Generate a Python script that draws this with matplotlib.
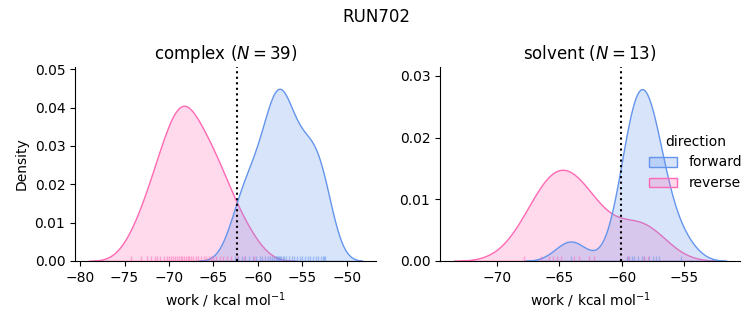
import numpy as np
import pandas as pd
import seaborn as sns
import matplotlib.pyplot as plt

# work values (kcal/mol)
forward_complex = [-62.6, -62.2, -61.8, -61.4, -61.0, -60.6, -60.2, -59.8, -59.5,
                   -59.2, -58.9, -58.6, -58.4, -58.2, -58.0, -57.8, -57.7, -57.6,
                   -57.5, -57.4, -57.2, -57.0, -56.8, -56.5, -56.2, -55.9, -55.6,
                   -55.3, -55.0, -54.7, -54.4, -54.1, -53.8, -53.5, -53.2, -52.9,
                   -52.7, -52.5, -52.4]
reverse_complex = [-74.3, -73.2, -72.5, -72.0, -71.6, -71.3, -71.0, -70.6, -70.2,
                   -70.0, -69.8, -69.5, -69.3, -69.1, -68.9, -68.7, -68.5, -68.3,
                   -68.1, -67.9, -67.7, -67.5, -67.3, -67.0, -66.7, -66.4, -66.1,
                   -65.8, -65.5, -65.3, -65.0, -64.7, -64.3, -63.9, -63.5, -63.0,
                   -62.4, -61.6, -60.4]
forward_solvent = [-64.1, -59.6, -59.4, -59.2, -59.0, -58.7, -58.4, -58.2, -57.8,
                   -57.5, -57.3, -57.0, -55.3]
reverse_solvent = [-67.8, -66.5, -65.8, -65.5, -65.2, -64.9, -63.8, -63.4, -62.6,
                   -62.2, -59.5, -58.2, -57.9]

phases = ['complex', 'solvent']
free_energy = {'complex': -62.4, 'solvent': -60.1}
density_top = {'complex': 0.0505, 'solvent': 0.0314}
palette = {'forward': 'cornflowerblue', 'reverse': 'hotpink'}

rows = []
for phase, fwd, rev in [('complex', forward_complex, reverse_complex),
                        ('solvent', forward_solvent, reverse_solvent)]:
    for w in fwd:
        rows.append((phase, 'forward', w))
    for w in rev:
        rows.append((phase, 'reverse', w))
df = pd.DataFrame(rows, columns=['phase', 'direction', 'work'])

g = sns.displot(df, x='work', hue='direction', col='phase', kind='kde', fill=True,
                rug=True, rug_kws=dict(alpha=0.5), hue_order=['forward', 'reverse'],
                palette=palette, facet_kws=dict(sharex=False, sharey=False))

g.figure.set_size_inches(7.53, 3.25)
g.set_axis_labels('work / kcal mol$^{-1}$', 'Density')

for ax, phase in zip(g.axes.flat, phases):
    n = (df[(df.phase == phase) & (df.direction == 'forward')]).shape[0]
    ax.set_title(f'{phase} ($N={n}$)', fontsize=12)
    ax.axvline(free_energy[phase], color='k', ls=':', lw=1.5)
    ax.set_ylim(0, density_top[phase])

g.axes[0, 0].set_position([0.0996, 0.197, 0.3997, 0.596])
g.axes[0, 1].set_position([0.5843, 0.197, 0.3984, 0.596])
sns.move_legend(g, 'center right', bbox_to_anchor=(1.002, 0.5))
g.figure.suptitle('RUN702', y=0.975, fontsize=12)

g.figure.savefig('out.png', dpi=100)
